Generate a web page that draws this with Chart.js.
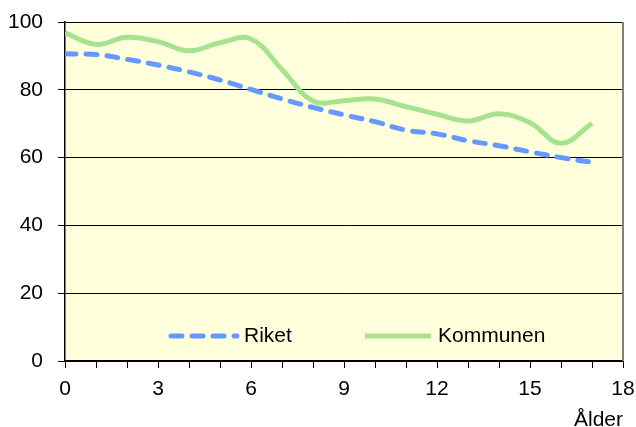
<!DOCTYPE html>
<html>
<head>
<meta charset="utf-8">
<script src="https://cdn.jsdelivr.net/npm/chart.js@4"></script>
<style>
  html, body { margin: 0; padding: 0; background: #fff; }
  #wrap { width: 636px; height: 427px; }
</style>
</head>
<body>
<div id="wrap"><canvas id="chart" width="636" height="427"></canvas></div>
<script>
// ages along the x axis
const ages = [0, 1, 2, 3, 4, 5, 6, 7, 8, 9, 10, 11, 12, 13, 14, 15, 16, 17];
const riket = [90.6, 90.4, 89.0, 87.3, 85.3, 82.9, 80.1, 77.3, 74.8, 72.6, 70.6, 68.1, 67.0, 65.0, 63.5, 61.7, 60.0, 58.6];
const kommunen = [96.8, 93.4, 95.5, 94.2, 91.5, 93.9, 95.0, 86.0, 76.7, 76.8, 77.3, 75.0, 72.8, 70.8, 72.9, 70.3, 64.2, 70.1];
const seriesNames = ['Riket', 'Kommunen'];
const xTicksShown = [0, 3, 6, 9, 12, 15, 18];
const yTicks = [0, 20, 40, 60, 80, 100];
const xTitle = 'Ålder';

const FONT = '"Liberation Sans", Arial, sans-serif';
Chart.defaults.font.family = FONT;
Chart.defaults.font.size = 21;
Chart.defaults.color = '#000';

// yellow plot background + grey right border
const plotBg = {
  id: 'plotBg',
  beforeDraw(chart) {
    const { ctx, chartArea: a } = chart;
    ctx.save();
    ctx.fillStyle = '#ffffdc';
    ctx.fillRect(a.left, a.top, a.right - a.left, a.bottom - a.top);
    ctx.restore();
  },
  afterDraw(chart) {
    const { ctx, chartArea: a } = chart;
    ctx.save();
    ctx.strokeStyle = '#808080';
    ctx.lineWidth = 2;
    ctx.beginPath();
    ctx.moveTo(a.right, a.top);
    ctx.lineTo(a.right, a.bottom);
    ctx.stroke();
    ctx.restore();
  }
};

// legend drawn inside the plot, near the bottom
const innerLegend = {
  id: 'innerLegend',
  afterDatasetsDraw(chart) {
    const { ctx, chartArea: a } = chart;
    const y = a.bottom - 25;
    const starts = [a.left + 103, a.left + 297];
    ctx.save();
    chart.data.datasets.forEach((ds, i) => {
      const x0 = starts[i];
      ctx.strokeStyle = ds.borderColor;
      ctx.lineWidth = ds.borderWidth;
      ctx.lineCap = ds.borderDash ? 'round' : 'butt';
      ctx.setLineDash(ds.borderDash || []);
      ctx.beginPath();
      ctx.moveTo(x0 + 3, y);
      ctx.lineTo(x0 + 69, y);
      ctx.stroke();
      ctx.setLineDash([]);
      ctx.fillStyle = '#000';
      ctx.font = '21px ' + FONT;
      ctx.textBaseline = 'middle';
      ctx.fillText(ds.label, x0 + 76, y);
    });
    ctx.restore();
  }
};

new Chart(document.getElementById('chart'), {
  type: 'line',
  data: {
    datasets: [
      {
        label: seriesNames[0],
        data: ages.map((a, i) => ({ x: a, y: riket[i] })),
        borderColor: '#6699ff',
        borderWidth: 5,
        borderDash: [11, 10],
        borderCapStyle: 'round',
        pointRadius: 0,
        tension: 0.4,
        fill: false
      },
      {
        label: seriesNames[1],
        data: ages.map((a, i) => ({ x: a, y: kommunen[i] })),
        borderColor: '#a6e38f',
        borderWidth: 5,
        pointRadius: 0,
        tension: 0.4,
        fill: false
      }
    ]
  },
  options: {
    responsive: false,
    animation: false,
    layout: { padding: { top: 22, right: 13, left: 0, bottom: 0 } },
    plugins: { legend: { display: false }, tooltip: { enabled: false } },
    scales: {
      x: {
        type: 'linear',
        min: 0,
        max: 18,
        afterBuildTicks(scale) {
          scale.ticks = ages.concat([18]).map(v => ({ value: v }));
        },
        ticks: {
          autoSkip: false,
          maxRotation: 0,
          padding: 9,
          callback: v => xTicksShown.includes(v) ? String(v) : ''
        },
        grid: { drawOnChartArea: false, drawTicks: true, tickLength: 7, color: '#000' },
        border: { color: '#000', width: 1.5 },
        title: { display: true, text: xTitle, align: 'end', padding: { top: 0, bottom: -6 } },
        afterFit(scale) { scale.height = 66; scale.paddingRight = 0; scale.paddingLeft = 0; }
      },
      y: {
        min: 0,
        max: 100,
        afterBuildTicks(scale) {
          scale.ticks = yTicks.map(v => ({ value: v }));
        },
        ticks: { padding: 15 },
        grid: { color: '#000', lineWidth: 1, tickLength: 7 },
        border: { color: '#000', width: 1.5 },
        afterFit(scale) { scale.width = 65; scale.paddingTop = 0; scale.paddingBottom = 0; }
      }
    }
  },
  plugins: [plotBg, innerLegend]
});
</script>
</body>
</html>
